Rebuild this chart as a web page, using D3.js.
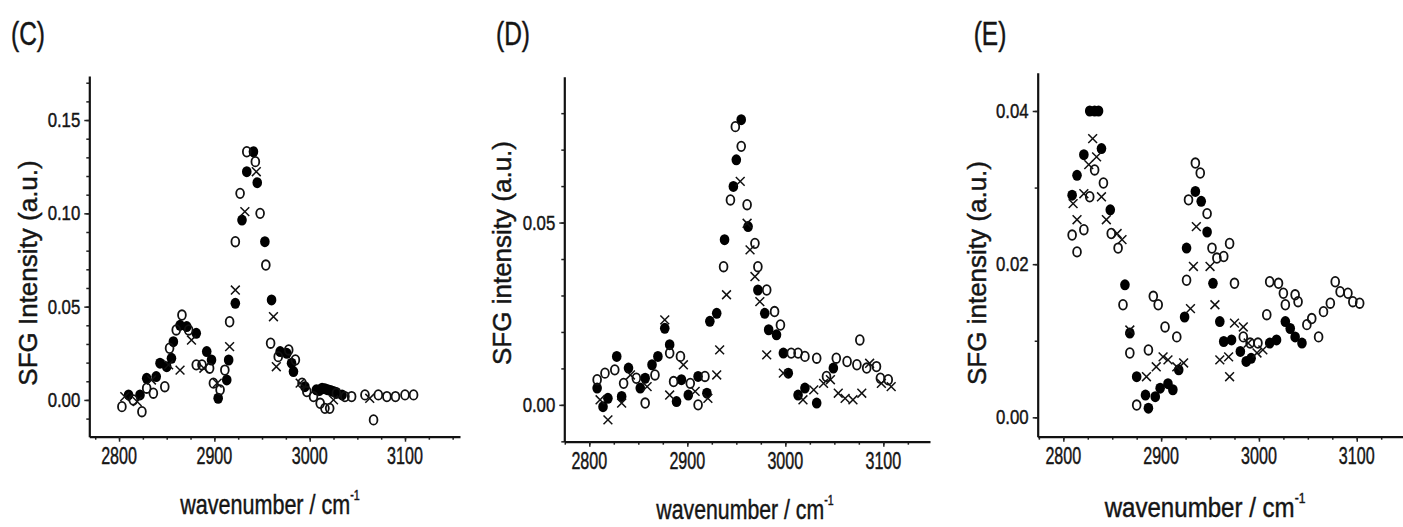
<!DOCTYPE html>
<html>
<head>
<meta charset="utf-8">
<script src="https://cdn.jsdelivr.net/npm/d3@7"></script>
<style>
  body { margin: 0; background: #fff; }
  svg { display: block; }
  text { font-family: Arial, "Liberation Sans", Helvetica, sans-serif; fill: #151515; stroke: #151515; stroke-width: 0.45px; }
</style>
</head>
<body>
<svg id="fig" width="1403" height="527"></svg>
<script>
// ---- data: SFG spectra, [wavenumber (cm^-1), intensity (a.u.)] ----
const xTickValues = [2800, 2900, 3000, 3100];

// panel (C)
const cYTicks = [0.00, 0.05, 0.10, 0.15];
const cFilled = [[2810,0.0027],[2822,0.0027],[2829,0.0116],[2839,0.0125],[2843,0.0197],[2850,0.0178],[2855,0.0223],[2857,0.0312],[2864,0.0400],[2871,0.0393],[2881,0.0357],[2892,0.0259],[2897,0.0214],[2904,0.0009],[2913,0.0107],[2915,0.0214],[2922,0.0518],[2929,0.0964],[2934,0.1223],[2941,0.1330],[2945,0.1164],[2953,0.0848],[2960,0.0536],[2969,0.0259],[2976,0.0250],[2981,0.0197],[2983,0.0152],[2995,0.0071],[3007,0.0054],[3010,0.0050],[3013,0.0063],[3016,0.0060],[3019,0.0054],[3022,0.0050],[3025,0.0045],[3028,0.0040],[3034,0.0027]];
const cOpen = [[2803,-0.0036],[2815,0.0000],[2824,-0.0063],[2829,0.0063],[2836,0.0036],[2848,0.0071],[2853,0.0277],[2860,0.0375],[2866,0.0455],[2873,0.0375],[2881,0.0188],[2887,0.0188],[2895,0.0170],[2899,0.0090],[2906,0.0054],[2911,0.0160],[2916,0.0419],[2922,0.0848],[2927,0.1107],[2934,0.1330],[2943,0.1277],[2948,0.1000],[2954,0.0723],[2959,0.0304],[2967,0.0232],[2978,0.0268],[2985,0.0214],[2992,0.0090],[2997,0.0045],[3004,0.0018],[3011,-0.0018],[3016,-0.0045],[3021,-0.0045],[3028,0.0036],[3037,0.0018],[3044,0.0018],[3058,0.0027],[3067,-0.0107],[3072,0.0027],[3081,0.0018],[3090,0.0018],[3100,0.0027],[3109,0.0027]];
const cCross = [[2806,0.0018],[2819,-0.0009],[2834,0.0107],[2852,0.0188],[2864,0.0160],[2876,0.0321],[2889,0.0170],[2903,0.0090],[2916,0.0286],[2922,0.0589],[2932,0.1009],[2944,0.1223],[2962,0.0446],[2965,0.0178],[2990,0.0090],[3025,0.0000],[3063,0.0009]];

// panel (D)
const dYTicks = [0.00, 0.05];
const dFilled = [[2808,0.0046],[2814,-0.0005],[2819,0.0018],[2828,0.0133],[2833,0.0023],[2840,0.0101],[2852,0.0046],[2857,0.0073],[2864,0.0110],[2870,0.0133],[2877,0.0210],[2882,0.0165],[2889,0.0009],[2894,0.0069],[2901,0.0027],[2911,0.0078],[2920,0.0032],[2923,0.0229],[2930,0.0251],[2938,0.0453],[2947,0.0599],[2950,0.0672],[2955,0.0782],[2962,0.0489],[2972,0.0315],[2979,0.0251],[2983,0.0206],[2991,0.0192],[2998,0.0142],[3003,0.0087],[3013,0.0027],[3020,0.0046],[3032,0.0005],[3049,0.0101]];
const dOpen = [[2808,0.0069],[2816,0.0087],[2826,0.0096],[2835,0.0059],[2848,0.0073],[2857,0.0005],[2867,0.0082],[2882,0.0142],[2886,0.0064],[2893,0.0133],[2903,0.0059],[2911,0.0000],[2918,0.0078],[2937,0.0379],[2944,0.0562],[2949,0.0763],[2955,0.0709],[2961,0.0549],[2969,0.0443],[2972,0.0379],[2981,0.0315],[2989,0.0256],[2995,0.0219],[3006,0.0142],[3013,0.0142],[3020,0.0133],[3032,0.0128],[3042,0.0078],[3052,0.0128],[3063,0.0119],[3073,0.0110],[3076,0.0178],[3083,0.0101],[3093,0.0105],[3097,0.0073],[3105,0.0069]];
const dCross = [[2811,0.0014],[2819,-0.0041],[2833,0.0005],[2842,0.0082],[2859,0.0050],[2877,0.0233],[2882,0.0027],[2896,0.0110],[2908,0.0037],[2921,0.0018],[2930,0.0082],[2933,0.0151],[2940,0.0302],[2954,0.0613],[2961,0.0498],[2964,0.0425],[2969,0.0352],[2974,0.0283],[2981,0.0137],[2998,0.0087],[3018,0.0014],[3029,0.0041],[3039,0.0059],[3046,0.0069],[3054,0.0032],[3061,0.0018],[3069,0.0014],[3078,0.0032],[3086,0.0114],[3098,0.0059],[3108,0.0050]];

// panel (E)
const eYTicks = [0.00, 0.02, 0.04];
const eFilled = [[2809,0.0290],[2814,0.0316],[2821,0.0343],[2827,0.0400],[2832,0.0400],[2836,0.0400],[2839,0.0351],[2848,0.0271],[2863,0.0173],[2868,0.0110],[2875,0.0053],[2884,0.0029],[2887,0.0012],[2894,0.0027],[2899,0.0038],[2907,0.0044],[2912,0.0036],[2918,0.0062],[2924,0.0131],[2926,0.0221],[2935,0.0295],[2941,0.0282],[2947,0.0242],[2953,0.0175],[2960,0.0125],[2964,0.0099],[2972,0.0101],[2981,0.0086],[2987,0.0073],[2992,0.0077],[3011,0.0097],[3018,0.0101],[3027,0.0125],[3032,0.0116],[3037,0.0105],[3044,0.0097]];
const eOpen = [[2809,0.0238],[2814,0.0216],[2821,0.0245],[2827,0.0288],[2832,0.0323],[2841,0.0306],[2849,0.0240],[2856,0.0221],[2861,0.0147],[2868,0.0084],[2875,0.0016],[2887,0.0088],[2892,0.0158],[2897,0.0147],[2904,0.0118],[2916,0.0105],[2926,0.0179],[2928,0.0284],[2935,0.0332],[2940,0.0319],[2947,0.0266],[2952,0.0221],[2957,0.0208],[2964,0.0210],[2970,0.0227],[2975,0.0175],[2984,0.0105],[2991,0.0097],[2999,0.0097],[3008,0.0134],[3011,0.0177],[3020,0.0175],[3025,0.0162],[3027,0.0147],[3037,0.0160],[3040,0.0151],[3049,0.0121],[3054,0.0129],[3061,0.0105],[3066,0.0138],[3073,0.0149],[3078,0.0177],[3083,0.0164],[3091,0.0162],[3096,0.0151],[3103,0.0149]];
const eCross = [[2810,0.0279],[2814,0.0258],[2821,0.0292],[2826,0.0330],[2830,0.0364],[2834,0.0340],[2839,0.0288],[2844,0.0258],[2855,0.0240],[2860,0.0232],[2868,0.0114],[2885,0.0053],[2895,0.0066],[2902,0.0079],[2907,0.0075],[2916,0.0066],[2923,0.0071],[2930,0.0142],[2933,0.0197],[2936,0.0249],[2950,0.0197],[2955,0.0147],[2960,0.0075],[2969,0.0079],[2970,0.0053],[2975,0.0123],[2984,0.0118],[2989,0.0097],[2998,0.0084],[3004,0.0088]];

// ---- layout of the three panels ----
const panels = [
  { label: "(C)", labelAt: [28, 45], yTitle: "SFG Intensity (a.u.)", yTitleAt: [28, 273],
    xTitleAt: [270, 514], xTitleSx: 0.77,
    box: { l: 89.3, r: 460, t: 76, b: 436.7 }, xDomain: [2768.8, 3157.7], yDomain: [-0.0197, 0.1736],
    yTicks: cYTicks, yMinor: 0.01, filled: cFilled, open: cOpen, cross: cCross },
  { label: "(D)", labelAt: [513, 45], yTitle: "SFG intensity (a.u.)", yTitleAt: [502, 253],
    xTitleAt: [745, 519], xTitleSx: 0.76,
    box: { l: 564.3, r: 930, t: 76.7, b: 441.7 }, xDomain: [2774.5, 3147.6], yDomain: [-0.0101, 0.09],
    yTicks: dYTicks, yMinor: 0.01, filled: dFilled, open: dOpen, cross: dCross },
  { label: "(E)", labelAt: [990, 45], yTitle: "SFG intensity (a.u.)", yTitleAt: [977, 273],
    xTitleAt: [1205, 517], xTitleSx: 0.86,
    box: { l: 1037.7, r: 1403, t: 72.7, b: 436.7 }, xDomain: [2773.8, 3147.3], yDomain: [-0.00253, 0.045],
    yTicks: eYTicks, yMinor: 0.01, filled: eFilled, open: eOpen, cross: eCross }
];

const svg = d3.select("#fig");

// horizontally condensed text, anchored at (x, y)
function condensed(parent, x, y, str, size, sx, anchor) {
  return parent.append("text")
    .attr("transform", `translate(${x},${y}) scale(${sx},1)`)
    .attr("text-anchor", anchor)
    .attr("font-size", size)
    .text(str);
}

panels.forEach(p => {
  const g = svg.append("g");
  const x = d3.scaleLinear().domain(p.xDomain).range([p.box.l, p.box.r]);
  const y = d3.scaleLinear().domain(p.yDomain).range([p.box.b, p.box.t]);

  // minor ticks
  const xMinor = d3.range(Math.ceil(p.xDomain[0] / 25) * 25, p.xDomain[1], 25);
  const yMinor = d3.range(Math.ceil(p.yDomain[0] / p.yMinor - 1e-6) * p.yMinor, p.yDomain[1], p.yMinor);

  g.append("g").attr("transform", `translate(0,${p.box.b})`)
    .call(d3.axisBottom(x).tickValues(xMinor).tickSize(3).tickSizeOuter(0).tickFormat(""))
    .call(a => a.select(".domain").remove());
  g.append("g").attr("transform", `translate(${p.box.l},0)`)
    .call(d3.axisLeft(y).tickValues(yMinor).tickSize(3).tickSizeOuter(0).tickFormat(""))
    .call(a => a.select(".domain").remove());

  // major ticks and axis lines
  g.append("g").attr("transform", `translate(0,${p.box.b})`)
    .call(d3.axisBottom(x).tickValues(xTickValues).tickSize(5).tickSizeOuter(0).tickFormat(""));
  g.append("g").attr("transform", `translate(${p.box.l},0)`)
    .call(d3.axisLeft(y).tickValues(p.yTicks).tickSize(5).tickSizeOuter(0).tickFormat(""));

  g.selectAll(".tick line").attr("stroke", "#222").attr("stroke-width", 1.5);
  g.selectAll(".domain").attr("stroke", "#111").attr("stroke-width", 2.2);

  // tick labels
  xTickValues.forEach(v => condensed(g, x(v), p.box.b + 27, String(v), 23, 0.7, "middle"));
  p.yTicks.forEach(v => condensed(g, p.box.l - 9, y(v) + 7, v.toFixed(2), 21, 0.8, "end"));

  // axis titles
  const xt = g.append("text")
    .attr("transform", `translate(${p.xTitleAt[0]},${p.xTitleAt[1]}) scale(${p.xTitleSx},1)`)
    .attr("text-anchor", "middle").attr("font-size", 28);
  xt.append("tspan").text("wavenumber / cm");
  xt.append("tspan").attr("font-size", 14).attr("dy", -14).text("-1");

  g.append("text")
    .attr("transform", `translate(${p.yTitleAt[0]},${p.yTitleAt[1]}) rotate(-90)`)
    .attr("text-anchor", "middle").attr("dy", "0.35em").attr("font-size", 26)
    .text(p.yTitle);

  condensed(g, p.labelAt[0], p.labelAt[1], p.label, 34, 0.72, "middle");

  // markers: filled circles, open circles, crosses
  const plot = g.append("g");
  plot.selectAll("ellipse.filled").data(p.filled).join("ellipse")
    .attr("class", "filled")
    .attr("cx", d => x(d[0])).attr("cy", d => y(d[1]))
    .attr("rx", 4.8).attr("ry", 5.5).attr("fill", "#000");
  plot.selectAll("ellipse.open").data(p.open).join("ellipse")
    .attr("class", "open")
    .attr("cx", d => x(d[0])).attr("cy", d => y(d[1]))
    .attr("rx", 3.9).attr("ry", 4.8).attr("fill", "none")
    .attr("stroke", "#111").attr("stroke-width", 1.8);
  const s = 4.4;
  plot.selectAll("path.cross").data(p.cross).join("path")
    .attr("class", "cross")
    .attr("d", d => {
      const cx = x(d[0]), cy = y(d[1]);
      return `M${cx - s},${cy - s}L${cx + s},${cy + s}M${cx - s},${cy + s}L${cx + s},${cy - s}`;
    })
    .attr("stroke", "#111").attr("stroke-width", 1.5).attr("fill", "none");
});
</script>
</body>
</html>
